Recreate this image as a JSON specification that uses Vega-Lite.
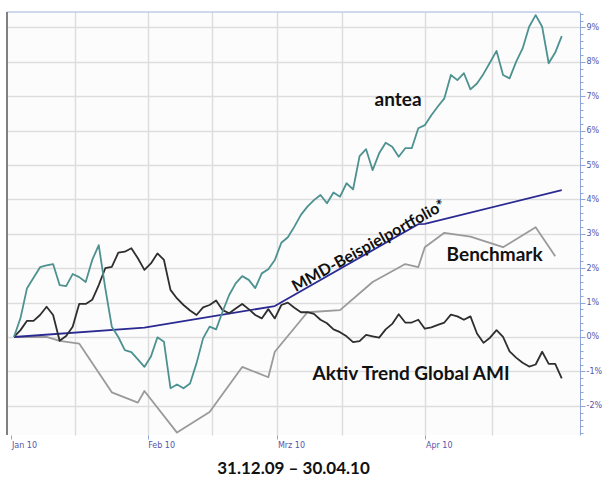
{
  "$schema": "https://vega.github.io/schema/vega-lite/v6.json",
  "width": 573,
  "height": 423,
  "autosize": "none",
  "padding": {"left": 7, "top": 12, "right": 23, "bottom": 43},
  "background": "#ffffff",
  "config": {"view": {"stroke": null, "fill": "#fcfcfc"}},
  "title": {"text": "31.12.09 – 30.04.10", "orient": "bottom", "anchor": "middle", "frame": "group", "font": "Lato", "fontSize": 17, "fontWeight": "bold", "color": "#111111", "offset": 12},
  "datasets": {
    "kurse": [
      {"serie": "Benchmark", "tag": 0, "wert": 0},
      {"serie": "Benchmark", "tag": 5, "wert": 0},
      {"serie": "Benchmark", "tag": 7, "wert": -0.11},
      {"serie": "Benchmark", "tag": 10, "wert": -0.19},
      {"serie": "Benchmark", "tag": 15, "wert": -1.61},
      {"serie": "Benchmark", "tag": 19, "wert": -1.91},
      {"serie": "Benchmark", "tag": 20, "wert": -1.57},
      {"serie": "Benchmark", "tag": 25, "wert": -2.78},
      {"serie": "Benchmark", "tag": 30, "wert": -2.18},
      {"serie": "Benchmark", "tag": 35, "wert": -0.87},
      {"serie": "Benchmark", "tag": 39, "wert": -1.17},
      {"serie": "Benchmark", "tag": 40, "wert": -0.43},
      {"serie": "Benchmark", "tag": 45, "wert": 0.72},
      {"serie": "Benchmark", "tag": 50, "wert": 0.78},
      {"serie": "Benchmark", "tag": 55, "wert": 1.6},
      {"serie": "Benchmark", "tag": 60, "wert": 2.12},
      {"serie": "Benchmark", "tag": 62, "wert": 2.03},
      {"serie": "Benchmark", "tag": 63, "wert": 2.61},
      {"serie": "Benchmark", "tag": 66, "wert": 3.03},
      {"serie": "Benchmark", "tag": 70, "wert": 2.92},
      {"serie": "Benchmark", "tag": 75, "wert": 2.61},
      {"serie": "Benchmark", "tag": 80, "wert": 3.19},
      {"serie": "Benchmark", "tag": 83, "wert": 2.35},
      {"serie": "MMD-Beispielportfolio*", "tag": 0, "wert": 0},
      {"serie": "MMD-Beispielportfolio*", "tag": 20, "wert": 0.27},
      {"serie": "MMD-Beispielportfolio*", "tag": 40, "wert": 0.9},
      {"serie": "MMD-Beispielportfolio*", "tag": 62, "wert": 3.28},
      {"serie": "MMD-Beispielportfolio*", "tag": 63, "wert": 3.29},
      {"serie": "MMD-Beispielportfolio*", "tag": 84, "wert": 4.27},
      {"serie": "Aktiv Trend Global AMI", "tag": 0, "wert": 0},
      {"serie": "Aktiv Trend Global AMI", "tag": 1, "wert": 0.2},
      {"serie": "Aktiv Trend Global AMI", "tag": 2, "wert": 0.47},
      {"serie": "Aktiv Trend Global AMI", "tag": 3, "wert": 0.47},
      {"serie": "Aktiv Trend Global AMI", "tag": 4, "wert": 0.64},
      {"serie": "Aktiv Trend Global AMI", "tag": 5, "wert": 0.88},
      {"serie": "Aktiv Trend Global AMI", "tag": 6, "wert": 0.64},
      {"serie": "Aktiv Trend Global AMI", "tag": 7, "wert": -0.11},
      {"serie": "Aktiv Trend Global AMI", "tag": 8, "wert": 0.03},
      {"serie": "Aktiv Trend Global AMI", "tag": 9, "wert": 0.3},
      {"serie": "Aktiv Trend Global AMI", "tag": 10, "wert": 0.96},
      {"serie": "Aktiv Trend Global AMI", "tag": 11, "wert": 0.96},
      {"serie": "Aktiv Trend Global AMI", "tag": 12, "wert": 1.08},
      {"serie": "Aktiv Trend Global AMI", "tag": 13, "wert": 1.51},
      {"serie": "Aktiv Trend Global AMI", "tag": 14, "wert": 2.0},
      {"serie": "Aktiv Trend Global AMI", "tag": 15, "wert": 2.04},
      {"serie": "Aktiv Trend Global AMI", "tag": 16, "wert": 2.45},
      {"serie": "Aktiv Trend Global AMI", "tag": 17, "wert": 2.48},
      {"serie": "Aktiv Trend Global AMI", "tag": 18, "wert": 2.58},
      {"serie": "Aktiv Trend Global AMI", "tag": 19, "wert": 2.29},
      {"serie": "Aktiv Trend Global AMI", "tag": 20, "wert": 1.95},
      {"serie": "Aktiv Trend Global AMI", "tag": 21, "wert": 2.14},
      {"serie": "Aktiv Trend Global AMI", "tag": 22, "wert": 2.43},
      {"serie": "Aktiv Trend Global AMI", "tag": 23, "wert": 2.24},
      {"serie": "Aktiv Trend Global AMI", "tag": 24, "wert": 1.37},
      {"serie": "Aktiv Trend Global AMI", "tag": 25, "wert": 1.12},
      {"serie": "Aktiv Trend Global AMI", "tag": 26, "wert": 0.93},
      {"serie": "Aktiv Trend Global AMI", "tag": 27, "wert": 0.77},
      {"serie": "Aktiv Trend Global AMI", "tag": 28, "wert": 0.64},
      {"serie": "Aktiv Trend Global AMI", "tag": 29, "wert": 0.86},
      {"serie": "Aktiv Trend Global AMI", "tag": 30, "wert": 0.93},
      {"serie": "Aktiv Trend Global AMI", "tag": 31, "wert": 1.06},
      {"serie": "Aktiv Trend Global AMI", "tag": 32, "wert": 0.78},
      {"serie": "Aktiv Trend Global AMI", "tag": 33, "wert": 0.69},
      {"serie": "Aktiv Trend Global AMI", "tag": 34, "wert": 0.83},
      {"serie": "Aktiv Trend Global AMI", "tag": 35, "wert": 0.96},
      {"serie": "Aktiv Trend Global AMI", "tag": 36, "wert": 0.81},
      {"serie": "Aktiv Trend Global AMI", "tag": 37, "wert": 0.64},
      {"serie": "Aktiv Trend Global AMI", "tag": 38, "wert": 0.54},
      {"serie": "Aktiv Trend Global AMI", "tag": 39, "wert": 0.81},
      {"serie": "Aktiv Trend Global AMI", "tag": 40, "wert": 0.54},
      {"serie": "Aktiv Trend Global AMI", "tag": 41, "wert": 0.93},
      {"serie": "Aktiv Trend Global AMI", "tag": 42, "wert": 1.0},
      {"serie": "Aktiv Trend Global AMI", "tag": 43, "wert": 0.85},
      {"serie": "Aktiv Trend Global AMI", "tag": 44, "wert": 0.72},
      {"serie": "Aktiv Trend Global AMI", "tag": 45, "wert": 0.72},
      {"serie": "Aktiv Trend Global AMI", "tag": 46, "wert": 0.67},
      {"serie": "Aktiv Trend Global AMI", "tag": 47, "wert": 0.5},
      {"serie": "Aktiv Trend Global AMI", "tag": 48, "wert": 0.4},
      {"serie": "Aktiv Trend Global AMI", "tag": 49, "wert": 0.22},
      {"serie": "Aktiv Trend Global AMI", "tag": 50, "wert": 0.14},
      {"serie": "Aktiv Trend Global AMI", "tag": 51, "wert": 0.02},
      {"serie": "Aktiv Trend Global AMI", "tag": 52, "wert": -0.15},
      {"serie": "Aktiv Trend Global AMI", "tag": 53, "wert": -0.12},
      {"serie": "Aktiv Trend Global AMI", "tag": 54, "wert": 0.06},
      {"serie": "Aktiv Trend Global AMI", "tag": 55, "wert": 0.02},
      {"serie": "Aktiv Trend Global AMI", "tag": 56, "wert": -0.02},
      {"serie": "Aktiv Trend Global AMI", "tag": 57, "wert": 0.22},
      {"serie": "Aktiv Trend Global AMI", "tag": 58, "wert": 0.38},
      {"serie": "Aktiv Trend Global AMI", "tag": 59, "wert": 0.66},
      {"serie": "Aktiv Trend Global AMI", "tag": 60, "wert": 0.42},
      {"serie": "Aktiv Trend Global AMI", "tag": 61, "wert": 0.42},
      {"serie": "Aktiv Trend Global AMI", "tag": 62, "wert": 0.5},
      {"serie": "Aktiv Trend Global AMI", "tag": 63, "wert": 0.24},
      {"serie": "Aktiv Trend Global AMI", "tag": 64, "wert": 0.28},
      {"serie": "Aktiv Trend Global AMI", "tag": 65, "wert": 0.35},
      {"serie": "Aktiv Trend Global AMI", "tag": 66, "wert": 0.42},
      {"serie": "Aktiv Trend Global AMI", "tag": 67, "wert": 0.65},
      {"serie": "Aktiv Trend Global AMI", "tag": 68, "wert": 0.6},
      {"serie": "Aktiv Trend Global AMI", "tag": 69, "wert": 0.5},
      {"serie": "Aktiv Trend Global AMI", "tag": 70, "wert": 0.6},
      {"serie": "Aktiv Trend Global AMI", "tag": 71, "wert": 0.1},
      {"serie": "Aktiv Trend Global AMI", "tag": 72, "wert": -0.17},
      {"serie": "Aktiv Trend Global AMI", "tag": 73, "wert": -0.02},
      {"serie": "Aktiv Trend Global AMI", "tag": 74, "wert": 0.2},
      {"serie": "Aktiv Trend Global AMI", "tag": 75, "wert": 0.0},
      {"serie": "Aktiv Trend Global AMI", "tag": 76, "wert": -0.42},
      {"serie": "Aktiv Trend Global AMI", "tag": 77, "wert": -0.6},
      {"serie": "Aktiv Trend Global AMI", "tag": 78, "wert": -0.75},
      {"serie": "Aktiv Trend Global AMI", "tag": 79, "wert": -0.86},
      {"serie": "Aktiv Trend Global AMI", "tag": 80, "wert": -0.8},
      {"serie": "Aktiv Trend Global AMI", "tag": 81, "wert": -0.43},
      {"serie": "Aktiv Trend Global AMI", "tag": 82, "wert": -0.78},
      {"serie": "Aktiv Trend Global AMI", "tag": 83, "wert": -0.78},
      {"serie": "Aktiv Trend Global AMI", "tag": 84, "wert": -1.2},
      {"serie": "antea", "tag": 0, "wert": 0},
      {"serie": "antea", "tag": 1, "wert": 0.55},
      {"serie": "antea", "tag": 2, "wert": 1.42},
      {"serie": "antea", "tag": 3, "wert": 1.72},
      {"serie": "antea", "tag": 4, "wert": 2.03},
      {"serie": "antea", "tag": 5, "wert": 2.08},
      {"serie": "antea", "tag": 6, "wert": 2.12},
      {"serie": "antea", "tag": 7, "wert": 1.51},
      {"serie": "antea", "tag": 8, "wert": 1.48},
      {"serie": "antea", "tag": 9, "wert": 1.83},
      {"serie": "antea", "tag": 10, "wert": 1.74},
      {"serie": "antea", "tag": 11, "wert": 1.6},
      {"serie": "antea", "tag": 12, "wert": 2.24},
      {"serie": "antea", "tag": 13, "wert": 2.67},
      {"serie": "antea", "tag": 14, "wert": 1.42},
      {"serie": "antea", "tag": 15, "wert": 0.3},
      {"serie": "antea", "tag": 16, "wert": 0.0},
      {"serie": "antea", "tag": 17, "wert": -0.38},
      {"serie": "antea", "tag": 18, "wert": -0.44},
      {"serie": "antea", "tag": 19, "wert": -0.65},
      {"serie": "antea", "tag": 20, "wert": -0.87},
      {"serie": "antea", "tag": 21, "wert": -0.57},
      {"serie": "antea", "tag": 22, "wert": -0.01},
      {"serie": "antea", "tag": 23, "wert": -0.14},
      {"serie": "antea", "tag": 24, "wert": -1.49},
      {"serie": "antea", "tag": 25, "wert": -1.38},
      {"serie": "antea", "tag": 26, "wert": -1.49},
      {"serie": "antea", "tag": 27, "wert": -1.35},
      {"serie": "antea", "tag": 28, "wert": -0.76},
      {"serie": "antea", "tag": 29, "wert": -0.04},
      {"serie": "antea", "tag": 30, "wert": 0.3},
      {"serie": "antea", "tag": 31, "wert": 0.22},
      {"serie": "antea", "tag": 32, "wert": 0.74},
      {"serie": "antea", "tag": 33, "wert": 1.22},
      {"serie": "antea", "tag": 34, "wert": 1.56},
      {"serie": "antea", "tag": 35, "wert": 1.77},
      {"serie": "antea", "tag": 36, "wert": 1.66},
      {"serie": "antea", "tag": 37, "wert": 1.42},
      {"serie": "antea", "tag": 38, "wert": 1.85},
      {"serie": "antea", "tag": 39, "wert": 1.97},
      {"serie": "antea", "tag": 40, "wert": 2.24},
      {"serie": "antea", "tag": 41, "wert": 2.74},
      {"serie": "antea", "tag": 42, "wert": 2.9},
      {"serie": "antea", "tag": 43, "wert": 3.21},
      {"serie": "antea", "tag": 44, "wert": 3.55},
      {"serie": "antea", "tag": 45, "wert": 3.79},
      {"serie": "antea", "tag": 46, "wert": 3.98},
      {"serie": "antea", "tag": 47, "wert": 4.13},
      {"serie": "antea", "tag": 48, "wert": 3.89},
      {"serie": "antea", "tag": 49, "wert": 4.2},
      {"serie": "antea", "tag": 50, "wert": 4.08},
      {"serie": "antea", "tag": 51, "wert": 4.47},
      {"serie": "antea", "tag": 52, "wert": 4.29},
      {"serie": "antea", "tag": 53, "wert": 5.26},
      {"serie": "antea", "tag": 54, "wert": 5.46},
      {"serie": "antea", "tag": 55, "wert": 4.85},
      {"serie": "antea", "tag": 56, "wert": 5.34},
      {"serie": "antea", "tag": 57, "wert": 5.65},
      {"serie": "antea", "tag": 58, "wert": 5.53},
      {"serie": "antea", "tag": 59, "wert": 5.24},
      {"serie": "antea", "tag": 60, "wert": 5.49},
      {"serie": "antea", "tag": 61, "wert": 5.49},
      {"serie": "antea", "tag": 62, "wert": 6.07},
      {"serie": "antea", "tag": 63, "wert": 6.16},
      {"serie": "antea", "tag": 64, "wert": 6.45},
      {"serie": "antea", "tag": 65, "wert": 6.7},
      {"serie": "antea", "tag": 66, "wert": 6.94},
      {"serie": "antea", "tag": 67, "wert": 7.62},
      {"serie": "antea", "tag": 68, "wert": 7.47},
      {"serie": "antea", "tag": 69, "wert": 7.67},
      {"serie": "antea", "tag": 70, "wert": 7.2},
      {"serie": "antea", "tag": 71, "wert": 7.37},
      {"serie": "antea", "tag": 72, "wert": 7.65},
      {"serie": "antea", "tag": 73, "wert": 7.98},
      {"serie": "antea", "tag": 74, "wert": 8.32},
      {"serie": "antea", "tag": 75, "wert": 7.62},
      {"serie": "antea", "tag": 76, "wert": 7.52},
      {"serie": "antea", "tag": 77, "wert": 8.0},
      {"serie": "antea", "tag": 78, "wert": 8.39},
      {"serie": "antea", "tag": 79, "wert": 9.02},
      {"serie": "antea", "tag": 80, "wert": 9.36},
      {"serie": "antea", "tag": 81, "wert": 9.02},
      {"serie": "antea", "tag": 82, "wert": 7.96},
      {"serie": "antea", "tag": 83, "wert": 8.27},
      {"serie": "antea", "tag": 84, "wert": 8.75}
    ]
  },
  "layer": [
    {
      "data": {"name": "kurse"},
      "mark": {"type": "line", "strokeWidth": 1.8, "strokeJoin": "round"},
      "encoding": {
        "x": {
          "field": "tag", "type": "quantitative",
          "scale": {"domain": [-1.07, 86.8], "nice": false, "zero": false},
          "axis": {
            "orient": "bottom", "title": null, "domain": false, "tickCount": 200,
            "values": [-0.38, 9.35, 20.5, 30.4, 40.4, 50.3, 63.1, 73.3],
            "labelExpr": "datum.value < 0 ? 'Jan 10' : datum.value == 20.5 ? 'Feb 10' : datum.value == 40.4 ? 'Mrz 10' : datum.value == 63.1 ? 'Apr 10' : ''",
            "labelAlign": "left", "labelFont": "DejaVu Sans", "labelFontSize": 8, "labelColor": "#5555aa", "labelPadding": 2, "labelOverlap": false, "labelFlush": false, "labelBound": false,
            "tickColor": "#8fa5d9", "tickSize": 4,
            "tickOpacity": {"condition": {"test": "datum.value == 9.35 || datum.value == 30.4 || datum.value == 50.3 || datum.value == 73.3", "value": 0}, "value": 1},
            "grid": true, "gridColor": "#dddddd", "gridWidth": 1.5,
            "gridOpacity": {"condition": {"test": "datum.value < 0", "value": 0}, "value": 1}
          }
        },
        "y": {
          "field": "wert", "type": "quantitative",
          "scale": {"domain": [-2.85, 9.45], "nice": false, "zero": false},
          "axis": {
            "orient": "right", "title": null, "tickCount": 500,
            "values": [-2.8, -2.6, -2.4, -2.2, -2, -1.8, -1.6, -1.4, -1.2, -1, -0.8, -0.6, -0.4, -0.2, 0, 0.2, 0.4, 0.6, 0.8, 1, 1.2, 1.4, 1.6, 1.8, 2, 2.2, 2.4, 2.6, 2.8, 3, 3.2, 3.4, 3.6, 3.8, 4, 4.2, 4.4, 4.6, 4.8, 5, 5.2, 5.4, 5.6, 5.8, 6, 6.2, 6.4, 6.6, 6.8, 7, 7.2, 7.4, 7.6, 7.8, 8, 8.2, 8.4, 8.6, 8.8, 9, 9.2, 9.4],
            "labelExpr": "abs(datum.value - round(datum.value)) < 0.01 ? round(datum.value) + '%' : ''",
            "labelFont": "DejaVu Sans", "labelFontSize": 8, "labelColor": "#5555aa", "labelPadding": 1, "labelOverlap": false, "labelBound": false, "labelFlush": false,
            "domainColor": "#8fa5d9", "domainWidth": 1,
            "tickColor": "#8fa5d9",
            "tickSize": {"condition": {"test": "abs(datum.value - round(datum.value)) > 0.01", "value": 3}, "value": 5},
            "grid": true, "gridColor": "#dddddd", "gridWidth": 1.5,
            "gridOpacity": {"condition": {"test": "abs(datum.value - round(datum.value)) > 0.01", "value": 0}, "value": 1}
          }
        },
        "color": {
          "field": "serie", "type": "nominal", "legend": null,
          "scale": {"domain": ["Benchmark", "MMD-Beispielportfolio*", "Aktiv Trend Global AMI", "antea"], "range": ["#9a9a9a", "#2a2a92", "#2e2e2e", "#4d9190"]}
        }
      }
    },
    {
      "data": {"values": [{}]},
      "mark": {"type": "rule", "color": "#9db1e0", "strokeWidth": 1.2},
      "encoding": {"y": {"datum": 9.45, "type": "quantitative"}}
    },
    {
      "data": {"values": [{}]},
      "mark": {"type": "rule", "color": "#808080", "strokeWidth": 2},
      "encoding": {"x": {"datum": -1.07, "type": "quantitative"}}
    },
    {
      "data": {"values": [{}]},
      "mark": {"type": "text", "text": "antea", "font": "Lato", "fontSize": 19, "fontWeight": "bold", "color": "#111111", "align": "center", "baseline": "middle"},
      "encoding": {"x": {"datum": 58.9, "type": "quantitative"}, "y": {"datum": 6.89, "type": "quantitative"}}
    },
    {
      "data": {"values": [{}]},
      "mark": {"type": "text", "text": "Benchmark", "font": "Lato", "fontSize": 19, "fontWeight": "bold", "color": "#111111", "align": "center", "baseline": "middle"},
      "encoding": {"x": {"datum": 73.7, "type": "quantitative"}, "y": {"datum": 2.38, "type": "quantitative"}}
    },
    {
      "data": {"values": [{}]},
      "mark": {"type": "text", "text": "Aktiv Trend Global AMI", "font": "Lato", "fontSize": 19, "fontWeight": "bold", "color": "#111111", "align": "center", "baseline": "middle"},
      "encoding": {"x": {"datum": 60.9, "type": "quantitative"}, "y": {"datum": -1.08, "type": "quantitative"}}
    },
    {
      "data": {"values": [{}]},
      "mark": {"type": "text", "text": "MMD-Beispielportfolio*", "font": "Lato", "fontSize": 16, "fontWeight": "bold", "color": "#111111", "align": "center", "baseline": "middle", "angle": -29},
      "encoding": {"x": {"datum": 54.4, "type": "quantitative"}, "y": {"datum": 2.65, "type": "quantitative"}}
    }
  ]
}
